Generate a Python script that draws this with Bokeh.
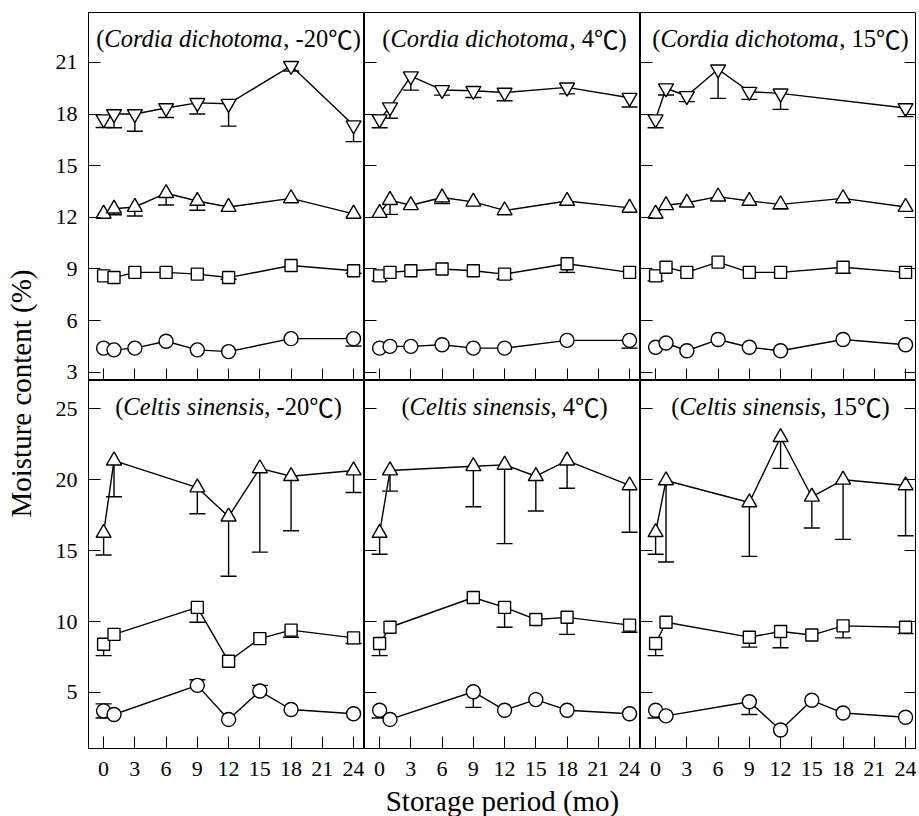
from bokeh.plotting import figure
from bokeh.layouts import row, column
from bokeh.models import Label, LinearAxis, FixedTicker, Range1d
from bokeh.embed import file_html
from bokeh.resources import INLINE

# ---------------- data ----------------
months_top = [0, 1, 3, 6, 9, 12, 18, 24]
months_bottom = [0, 1, 9, 12, 15, 18, 24]

x_ticks = [0, 3, 6, 9, 12, 15, 18, 21, 24]
y_ticks_top = [3, 6, 9, 12, 15, 18, 21]
y_ticks_bottom = [5, 10, 15, 20, 25]

species_top = "Cordia dichotoma"
species_bottom = "Celtis sinensis"
temperatures = ["-20", "4", "15"]

# Cordia dichotoma, -20 C  (means, lower error)
cd_m20_circle = [4.4, 4.3, 4.4, 4.8, 4.3, 4.2, 4.95, 4.95]
cd_m20_circle_err = [0, 0, 0, 0, 0, 0, 0, 0.43]
cd_m20_square = [8.6, 8.5, 8.8, 8.8, 8.7, 8.5, 9.2, 8.9]
cd_m20_square_err = [0, 0, 0, 0, 0, 0.1, 0, 0.15]
cd_m20_triangle = [12.2, 12.5, 12.6, 13.4, 12.95, 12.6, 13.1, 12.2]
cd_m20_triangle_err = [0, 0.35, 0.52, 0.68, 0.54, 0, 0, 0]
cd_m20_invtri = [17.7, 18.0, 18.0, 18.35, 18.65, 18.6, 20.8, 17.35]
cd_m20_invtri_err = [0.48, 0.8, 1.0, 0.55, 0.65, 1.3, 0.3, 0.95]

# Cordia dichotoma, 4 C
cd_4_circle = [4.4, 4.5, 4.5, 4.6, 4.4, 4.4, 4.85, 4.85]
cd_4_circle_err = [0, 0, 0, 0, 0, 0, 0, 0.45]
cd_4_square = [8.6, 8.8, 8.9, 9.0, 8.9, 8.7, 9.3, 8.8]
cd_4_square_err = [0.3, 0, 0, 0, 0, 0.3, 0.5, 0]
cd_4_triangle = [12.25, 13.0, 12.7, 13.15, 12.9, 12.4, 12.95, 12.55]
cd_4_triangle_err = [0, 0.83, 0, 0.35, 0, 0, 0, 0]
cd_4_invtri = [17.7, 18.4, 20.2, 19.4, 19.35, 19.25, 19.55, 18.95]
cd_4_invtri_err = [0.5, 0.64, 0.81, 0.3, 0.39, 0.48, 0.38, 0.54]

# Cordia dichotoma, 15 C
cd_15_circle = [4.45, 4.7, 4.25, 4.9, 4.45, 4.25, 4.9, 4.6]
cd_15_circle_err = [0, 0, 0, 0, 0, 0, 0, 0]
cd_15_square = [8.6, 9.1, 8.8, 9.4, 8.8, 8.8, 9.1, 8.8]
cd_15_square_err = [0.3, 0, 0, 0, 0, 0, 0.35, 0]
cd_15_triangle = [12.2, 12.7, 12.85, 13.2, 12.95, 12.75, 13.1, 12.6]
cd_15_triangle_err = [0, 0, 0, 0.2, 0, 0.25, 0, 0]
cd_15_invtri = [17.7, 19.5, 19.05, 20.6, 19.3, 19.2, None, 18.35]
cd_15_invtri_err = [0.5, 0.39, 0.33, 1.69, 0.45, 0.93, 0, 0.5]

# Celtis sinensis, -20 C
cs_m20_circle = [3.7, 3.45, 5.5, 3.1, 5.1, 3.8, 3.5]
cs_m20_circle_err = [0.5, 0, 0, 0, 0, 0, 0]
cs_m20_circle_err_up = [0.5, 0, 0.4, 0, 0.4, 0, 0]
cs_m20_square = [8.4, 9.1, 11.0, 7.2, 8.8, 9.4, 8.85]
cs_m20_square_err = [0.8, 0, 1.05, 0, 0, 0.5, 0.4]
cs_m20_triangle = [16.25, 21.35, 19.45, 17.4, 20.8, 20.25, 20.65]
cs_m20_triangle_err = [1.55, 2.55, 1.85, 4.2, 5.9, 3.85, 1.55]

# Celtis sinensis, 4 C
cs_4_circle = [3.75, 3.1, 5.05, 3.75, 4.5, 3.75, 3.5]
cs_4_circle_err = [0.55, 0, 1.1, 0, 0, 0, 0]
cs_4_square = [8.45, 9.6, 11.7, 11.0, 10.15, 10.3, 9.75]
cs_4_square_err = [0.85, 0, 0, 1.4, 0, 1.2, 0.5]
cs_4_triangle = [16.25, 20.65, 20.95, 21.05, 20.25, 21.35, 19.6]
cs_4_triangle_err = [1.5, 1.45, 2.85, 5.55, 2.45, 1.95, 3.3]

# Celtis sinensis, 15 C
cs_15_circle = [3.75, 3.35, 4.35, 2.35, 4.45, 3.55, 3.25]
cs_15_circle_err = [0.55, 0, 0.9, 0, 0, 0, 0]
cs_15_square = [8.45, 9.95, 8.9, 9.3, 9.05, 9.7, 9.6]
cs_15_square_err = [0.85, 0, 0.7, 1.15, 0, 0.85, 0.45]
cs_15_triangle = [16.3, 19.95, 18.4, 23.0, 18.8, 20.0, 19.6]
cs_15_triangle_err = [1.55, 5.75, 3.8, 2.2, 2.2, 4.2, 3.55]

zeros7 = [0] * 7

# ---------------- layout / style ----------------
FONT = "serif"
CJK = "Noto Sans CJK SC"
FW, FH = 276, 368
YLW = 40
ML = 48
MT = 12
MB = 68
XR = (-1.45, 25.05)
YR_TOP = (2.52, 23.9)
YR_BOT = (1.05, 27.0)
MSIZE = {"circle": 14, "square": 12, "triangle": 15, "inverted_triangle": 15}
LW = 1.4
TICK_FS = "22px"
TITLE_FS = 24.5

REG_W = {"(": .333, ")": .333, ",": .25, " ": .25, "-": .333}
for d in "0123456789":
    REG_W[d] = .5
ITA_W = {"C": .667, "o": .5, "r": .389, "d": .5, "i": .278, "a": .5, " ": .25,
         "c": .444, "h": .5, "t": .278, "m": .722, "e": .444, "l": .278,
         "s": .389, "n": .5}


def tw(s, table):
    return sum(table.get(ch, .5) for ch in s)


def add_title(p, species, temp, y_top):
    S = TITLE_FS
    xc = (XR[0] + XR[1]) / 2
    pieces = [("(", "normal", FONT, REG_W["("]),
              (species, "italic", FONT, tw(species, ITA_W)),
              (", " + temp, "normal", FONT, tw(", " + temp, REG_W)),
              ("\u2103", "normal", CJK, 1.0),
              (")", "normal", FONT, REG_W[")"])]
    total = sum(w for *_, w in pieces) * S
    off = -total / 2 + 2
    for t, st, f, w in pieces:
        p.add_layout(Label(x=xc, y=y_top, x_offset=off, y_offset=-26, text=t,
                           text_font=f, text_font_style=st,
                           text_font_size=f"{S}px", text_align="left",
                           text_baseline="middle", text_color="black"))
        off += w * S


def style_axis(ax, ticks, labels):
    ax.ticker = FixedTicker(ticks=ticks)
    ax.major_tick_in = 12
    ax.major_tick_out = 0
    ax.minor_tick_line_color = None
    ax.axis_line_color = "black"
    ax.major_tick_line_color = "black"
    ax.major_label_text_font = FONT
    if labels:
        ax.major_label_text_color = "black"
        ax.major_label_text_font_size = TICK_FS
        ax.major_label_standoff = 11
    else:
        ax.major_label_text_color = None
        ax.major_label_text_font_size = "0px"
        ax.major_label_standoff = 0


def make_panel(row_i, col_i, xs, series, yr, yticks, species, temp):
    p = figure(frame_width=FW, frame_height=FH,
               x_range=Range1d(*XR), y_range=Range1d(*yr),
               output_backend="svg", toolbar_location=None,
               min_border_left=ML if col_i == 0 else 0,
               min_border_right=0,
               min_border_top=MT if row_i == 0 else 0,
               min_border_bottom=MB if row_i == 1 else 0,
               background_fill_color="white", border_fill_color="white",
               outline_line_color="black")
    p.grid.visible = False
    style_axis(p.xaxis[0], x_ticks, row_i == 1)
    if row_i == 1:
        p.xaxis[0].major_label_standoff = 13
    style_axis(p.yaxis[0], yticks, col_i == 0)
    if col_i == 2:
        rax = LinearAxis()
        style_axis(rax, yticks, False)
        p.add_layout(rax, "right")
    if row_i == 1 and col_i == 1:
        p.xaxis[0].axis_label = "Storage period (mo)"
        p.xaxis[0].axis_label_text_font = FONT
        p.xaxis[0].axis_label_text_font_style = "normal"
        p.xaxis[0].axis_label_text_font_size = "29px"
        p.xaxis[0].axis_label_text_color = "black"
        p.xaxis[0].axis_label_standoff = 6

    for marker, ys, err_lo, err_up in series:
        pts = [(x, y, e, u) for x, y, e, u in zip(xs, ys, err_lo, err_up) if y is not None]
        px = [a[0] for a in pts]
        py = [a[1] for a in pts]
        p.line(px, py, line_color="black", line_width=LW)
        lo = [(x, y, e) for x, y, e, u in pts if e]
        if lo:
            lx = [a[0] for a in lo]
            ly = [a[1] for a in lo]
            le = [a[1] - a[2] for a in lo]
            p.segment(x0=lx, y0=ly, x1=lx, y1=le, line_color="black", line_width=LW)
            p.scatter(lx, le, marker="dash", size=16, line_color="black", line_width=LW)
        up = [(x, y, u) for x, y, e, u in pts if u]
        if up:
            ux = [a[0] for a in up]
            uy = [a[1] for a in up]
            ue = [a[1] + a[2] for a in up]
            p.segment(x0=ux, y0=uy, x1=ux, y1=ue, line_color="black", line_width=LW)
            p.scatter(ux, ue, marker="dash", size=16, line_color="black", line_width=LW)
        p.scatter(px, py, marker=marker, size=MSIZE[marker], fill_color="white",
                  line_color="black", line_width=LW)

    add_title(p, species, temp, yr[1])
    return p


z8 = [0] * 8
top_series = [
    [("circle", cd_m20_circle, cd_m20_circle_err, z8),
     ("square", cd_m20_square, cd_m20_square_err, z8),
     ("triangle", cd_m20_triangle, cd_m20_triangle_err, z8),
     ("inverted_triangle", cd_m20_invtri, cd_m20_invtri_err, z8)],
    [("circle", cd_4_circle, cd_4_circle_err, z8),
     ("square", cd_4_square, cd_4_square_err, z8),
     ("triangle", cd_4_triangle, cd_4_triangle_err, z8),
     ("inverted_triangle", cd_4_invtri, cd_4_invtri_err, z8)],
    [("circle", cd_15_circle, cd_15_circle_err, z8),
     ("square", cd_15_square, cd_15_square_err, z8),
     ("triangle", cd_15_triangle, cd_15_triangle_err, z8),
     ("inverted_triangle", cd_15_invtri, cd_15_invtri_err, z8)],
]
bottom_series = [
    [("circle", cs_m20_circle, cs_m20_circle_err, cs_m20_circle_err_up),
     ("square", cs_m20_square, cs_m20_square_err, zeros7),
     ("triangle", cs_m20_triangle, cs_m20_triangle_err, zeros7)],
    [("circle", cs_4_circle, cs_4_circle_err, zeros7),
     ("square", cs_4_square, cs_4_square_err, zeros7),
     ("triangle", cs_4_triangle, cs_4_triangle_err, zeros7)],
    [("circle", cs_15_circle, cs_15_circle_err, zeros7),
     ("square", cs_15_square, cs_15_square_err, zeros7),
     ("triangle", cs_15_triangle, cs_15_triangle_err, zeros7)],
]

top_row = [make_panel(0, c, months_top, top_series[c], YR_TOP, y_ticks_top,
                      species_top, temperatures[c]) for c in range(3)]
bottom_row = [make_panel(1, c, months_bottom, bottom_series[c], YR_BOT, y_ticks_bottom,
                         species_bottom, temperatures[c]) for c in range(3)]

H_TOTAL = MT + 2 * FH + MB
ylab = figure(width=YLW, height=H_TOTAL, x_range=Range1d(0, YLW), y_range=Range1d(0, H_TOTAL),
              x_axis_location=None, y_axis_location=None, min_border=0,
              output_backend="svg", toolbar_location=None, outline_line_color=None)
ylab.grid.visible = False
ylab.add_layout(Label(x=20, y=H_TOTAL - 393, text="Moisture content (%)",
                      angle=90, angle_units="deg", text_align="center",
                      text_baseline="middle", text_font=FONT, text_font_size="29px",
                      text_color="black"))

layout = row(ylab, column(row(*top_row), row(*bottom_row)))

open("out.html", "w").write(file_html(layout, INLINE))
